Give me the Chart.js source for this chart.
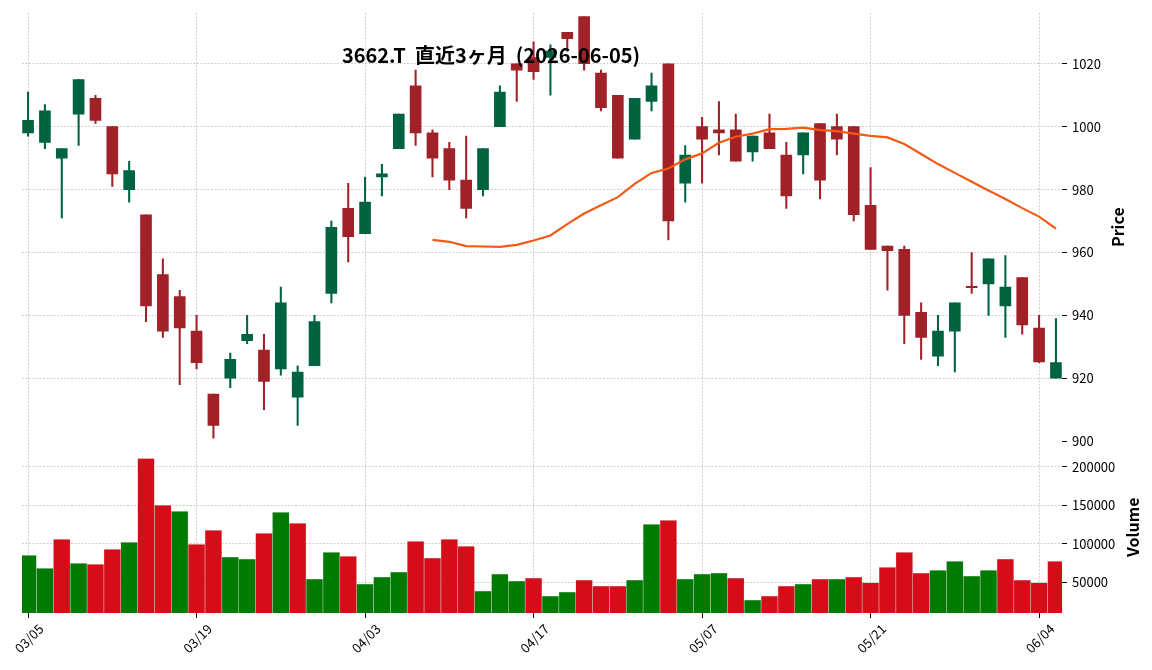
<!DOCTYPE html>
<html>
<head>
<meta charset="utf-8">
<script src="https://cdn.jsdelivr.net/npm/chart.js@4.4.1/dist/chart.umd.min.js"></script>
<style>
  html, body { margin: 0; padding: 0; background: #fff; }
  #wrap { width: 1152px; height: 670px; }
</style>
</head>
<body>
<div id="wrap"><canvas id="c" width="1152" height="670"></canvas></div>
<script>
// 3662.T daily bars, last 3 months
const dates = ['03/05','03/06','03/09','03/10','03/11','03/12','03/13','03/16','03/17','03/18',
  '03/19','03/23','03/24','03/25','03/26','03/27','03/30','03/31','04/01','04/02',
  '04/03','04/06','04/07','04/08','04/09','04/10','04/13','04/14','04/15','04/16',
  '04/17','04/20','04/21','04/22','04/23','04/24','04/27','04/28','04/30','05/01',
  '05/07','05/08','05/11','05/12','05/13','05/14','05/15','05/18','05/19','05/20',
  '05/21','05/22','05/25','05/26','05/27','05/28','05/29','06/01','06/02','06/03',
  '06/04','06/05'];

const opens = [998, 995, 990, 1004, 1009, 1000, 980, 972, 953, 946,
  935, 915, 920, 932, 929, 923, 914, 924, 947, 974,
  966, 984, 993, 1013, 998, 993, 983, 980, 1000, 1020,
  1022, 1022, 1030, 1035, 1017, 1010, 996, 1008, 1020, 982,
  1000, 999, 999, 992, 998, 991, 991, 1001, 1000, 1000,
  975, 962, 961, 941, 927, 935, 949, 950, 943, 952,
  936, 920];
const highs = [1011, 1007, 993, 1015, 1010, 1000, 989, 972, 958, 948,
  940, 915, 928, 940, 934, 949, 924, 940, 970, 982,
  984, 988, 1004, 1018, 999, 995, 997, 993, 1013, 1020,
  1027, 1026, 1030, 1035, 1018, 1010, 1009, 1017, 1020, 994,
  1003, 1008, 1004, 997, 1004, 995, 998, 1001, 1004, 1000,
  987, 962, 962, 944, 940, 944, 960, 958, 959, 952,
  940, 939];
const lows = [997, 993, 971, 994, 1001, 981, 976, 938, 933, 918,
  923, 901, 917, 931, 910, 921, 905, 924, 944, 957,
  966, 978, 993, 994, 984, 980, 971, 978, 1000, 1008,
  1015, 1010, 1024, 1018, 1005, 990, 996, 1005, 964, 976,
  982, 991, 989, 989, 993, 974, 985, 977, 991, 970,
  961, 948, 931, 926, 924, 922, 947, 940, 933, 934,
  925, 920];
const closes = [1002, 1005, 993, 1015, 1002, 985, 986, 943, 935, 936,
  925, 905, 926, 934, 919, 944, 922, 938, 968, 965,
  976, 985, 1004, 998, 990, 983, 974, 993, 1011, 1018,
  1017.5, 1024, 1028, 1020, 1006, 990, 1009, 1013, 970, 991,
  996, 998, 989, 997, 993, 978, 998, 983, 996, 972,
  961, 960.6, 940, 933, 935, 944, 948.8, 958, 949, 937,
  925.2, 925];
const volumes = [85300, 68500, 106000, 75000, 73700, 93100, 102200, 210800, 150000, 142200,
  99600, 117700, 82800, 80200, 113800, 140900, 126700, 54300, 89200, 84000,
  47800, 56900, 63400, 103400, 81500, 106000, 97000, 38800, 60800, 51700,
  55600, 32300, 37500, 53000, 45300, 45300, 53000, 125400, 130600, 54300,
  60800, 62100, 55600, 27200, 32300, 45300, 47800, 54300, 54300, 56900,
  49600, 69800, 89200, 62100, 65900, 77600, 58200, 65900, 80200, 53000,
  49600, 77600];

// 25-day moving average, first value on bar index 24
const maStart = 24;
const ma25 = [964.0, 963.4, 962.0, 961.9, 961.8, 962.4, 963.8, 965.4, 969.0, 972.4,
  975.0, 977.6, 981.8, 985.3, 986.7, 989.6, 991.5, 994.9, 996.8, 997.8,
  999.2, 999.3, 999.7, 998.9, 998.6, 997.8, 997.1, 996.6, 994.5, 991.3,
  988.1, 985.3, 982.5, 979.7, 977.0, 974.1, 971.4, 967.6];

const priceTicks = [900, 920, 940, 960, 980, 1000, 1020];
const volumeTicks = [50000, 100000, 150000, 200000];
const dateTicks = [0, 10, 20, 30, 40, 50, 60];

const UP = '#006340', DOWN = '#a02128';
const VUP = '#007a00', VDOWN = '#d50d18';
const GRID = '#c4c4c4';
const FONT = "'Noto Sans CJK JP', 'Noto Sans', sans-serif";

Chart.defaults.font.family = FONT;
Chart.defaults.font.size = 13;
Chart.defaults.color = '#000';

const idx = dates.map((d, i) => i);
const candleColors = idx.map(i => closes[i] >= opens[i] ? UP : DOWN);
const volColors = idx.map(i => (i === 0 || closes[i] > closes[i - 1]) ? VUP : VDOWN);

// titles drawn on top, like matplotlib's suptitle / ylabels
const overlay = {
  id: 'overlay',
  afterDraw(chart) {
    const c = chart.ctx;
    const yp = chart.scales.y, yv = chart.scales.yv;
    c.save();
    c.fillStyle = '#000';
    c.textAlign = 'center';
    c.textBaseline = 'middle';
    c.font = 'bold 20px ' + FONT;
    c.fillText('3662.T  直近3ヶ月  (2026-06-05)', 491, 55);

    c.font = 'bold 16px ' + FONT;
    c.save();
    c.translate(1118, (yp.top + yp.bottom) / 2);
    c.rotate(-Math.PI / 2);
    c.fillText('Price', 0, 0);
    c.restore();
    c.save();
    c.translate(1133, (yv.top + yv.bottom) / 2);
    c.rotate(-Math.PI / 2);
    c.fillText('Volume', 0, 0);
    c.restore();
    c.restore();
  }
};

const gridOpts = {
  color: GRID, lineWidth: 0.8, offset: false,
  tickColor: '#000', tickLength: 5, tickWidth: 1
};

new Chart(document.getElementById('c'), {
  type: 'bar',
  data: {
    datasets: [
      {
        type: 'line', label: 'MA25', yAxisID: 'y', order: 0,
        data: ma25.map((v, k) => ({ x: maStart + k, y: v })),
        borderColor: '#f25a16', borderWidth: 2.2, pointRadius: 0, tension: 0
      },
      {
        label: 'body', yAxisID: 'y', order: 1, grouped: false,
        data: idx.map(i => ({ x: i, y: [opens[i], closes[i]] })),
        backgroundColor: candleColors, barThickness: 11, minBarLength: 1.5
      },
      {
        label: 'wick', yAxisID: 'y', order: 2, grouped: false,
        data: idx.map(i => ({ x: i, y: [lows[i], highs[i]] })),
        backgroundColor: candleColors, barThickness: 1.4
      },
      {
        label: 'Volume', yAxisID: 'yv', order: 3, grouped: false,
        data: idx.map(i => ({ x: i, y: volumes[i] })),
        backgroundColor: volColors, borderColor: 'rgba(0,0,0,0.12)', borderWidth: 0.6,
        barPercentage: 1, categoryPercentage: 1
      }
    ]
  },
  options: {
    responsive: false,
    animation: false,
    layout: { padding: { left: 22, top: 11, right: 0, bottom: 0 } },
    plugins: { legend: { display: false }, tooltip: { enabled: false } },
    scales: {
      x: {
        type: 'linear', min: -0.36, max: 61.36, offset: false,
        afterBuildTicks: ax => { ax.ticks = dateTicks.map(v => ({ value: v })); },
        afterFit: ax => { ax.height = 57; },
        grid: gridOpts,
        border: { display: false, dash: [2, 1.5] },
        ticks: {
          callback: v => dates[v], autoSkip: false,
          minRotation: 45, maxRotation: 45, labelOffset: 13, padding: 3
        }
      },
      y: {
        type: 'linear', position: 'right', stack: 'panels', stackWeight: 430,
        min: 899.9, max: 1036.2, beginAtZero: false,
        afterBuildTicks: ax => { ax.ticks = priceTicks.map(v => ({ value: v })); },
        afterFit: ax => { ax.width = 90; },
        grid: Object.assign({}, gridOpts, {
          color: ctx => (ctx.tick && ctx.tick.value === 900) ? 'rgba(0,0,0,0)' : GRID
        }),
        border: { display: false, dash: [2, 1.5] },
        ticks: { callback: v => String(v), padding: 5 }
      },
      yv: {
        type: 'linear', position: 'right', stack: 'panels', stackWeight: 172,
        min: 10300, max: 232700, beginAtZero: false,
        afterBuildTicks: ax => { ax.ticks = volumeTicks.map(v => ({ value: v })); },
        afterFit: ax => { ax.width = 90; },
        grid: gridOpts,
        border: { display: false, dash: [2, 1.5] },
        ticks: { callback: v => String(v), padding: 5 }
      }
    }
  },
  plugins: [overlay]
});
</script>
</body>
</html>
